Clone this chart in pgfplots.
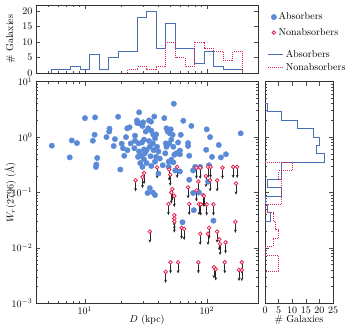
\documentclass[border=0pt]{standalone}
\usepackage{pgfplots}
\pgfplotsset{compat=1.18}
\usetikzlibrary{arrows.meta}
\definecolor{absblue}{RGB}{90,138,215}
\definecolor{histblue}{RGB}{75,110,185}
\definecolor{nonred}{RGB}{226,36,80}

\pgfplotsset{
  panel/.style={
    scale only axis,
    axis line style={black!80, line width=0.8pt},
    tick style={black!70, line width=0.5pt},
    major tick length=4pt, minor tick length=2pt,
    tick align=inside,
    font=\normalsize,
  },
}

\begin{document}
\begin{tikzpicture}
\useasboundingbox (0pt,0pt) rectangle (352pt,334pt);

% scatter: D vs W_r
\begin{axis}[panel,
  at={(36pt,30.7pt)}, anchor=south west,
  width=222pt, height=221.6pt,
  xmode=log, ymode=log,
  xmin=3.97, xmax=262, ymin=1e-3, ymax=10,
  xlabel={$D$ (kpc)},
  ylabel={$W_r(2796)$ (\AA)},
  ylabel style={at={(axis description cs:-0.115,0.5)}, anchor=center},
  xlabel style={at={(axis description cs:0.5,-0.075)}, anchor=center},
  legend image code/.code={\draw[mark repeat=1,#1] plot coordinates {(0pt,0pt)};},
  legend style={at={(1.045,1.33)}, anchor=north west, draw=none, fill=none,
    font=\normalsize, row sep=3pt},
  legend cell align=left,
]
\addplot[only marks, mark=*, mark size=2.7pt, color=absblue] coordinates {
(5.35,0.70) (7.5,0.43) (7.8,0.87) (8.6,0.78) (10.0,2.2)
(12.1,2.27) (12.0,1.1) (11.6,0.86) (12.6,0.42) (12.4,0.32) (12.3,0.29)
(15.0,1.0)
(15.9,1.42) (15.8,1.26) (17.6,0.92) (17.2,0.69) (18.7,2.33)
(19.5,0.26) (21.0,0.46) (20.0,0.76) (20.5,0.63) (21.7,1.0) (22.2,1.44) (22.3,0.58)
(23.2,1.5) (23.7,0.77) (25.7,1.06) (25.7,0.86) (25.4,0.63) (26.7,2.0) (26.8,1.8)
(27.8,2.8) (28.5,1.75) (30.0,1.85) (29.6,1.59) (31.5,1.26) (27.5,0.77)
(29.3,0.80) (30.5,0.90) (27.8,0.55) (27.2,0.44) (28.4,0.34) (29.6,0.29)
(28.8,0.46) (30.5,0.60) (31.0,0.51) (30.4,0.40) (32.0,0.58) (32.0,0.34)
(33.5,2.0) (37,2.35) (34.8,1.9) (33,1.44) (36.2,1.12) (38.3,1.12) (37.5,0.95)
(36,0.77) (34,0.67) (38.3,0.44) (37.5,0.36) (34,0.12) (36,0.10) (37.5,0.09)
(32.6,0.098) (35,1.3) (33.5,0.85) (34.5,0.45) (36.5,0.58) (35,0.30)
(44.7,2.2) (39,0.67) (40,0.55) (41,0.41) (43.4,0.31) (40,0.22) (45.5,0.51) (46,0.77)
(53.5,4.0) (46.6,1.44) (50.5,1.38) (49.7,1.17) (52.3,1.1) (47.6,1.26) (49,0.77)
(46.6,0.67) (53,0.67) (51,0.39) (48.5,0.36) (53,0.35) (48.5,0.29) (55,0.25)
(54,0.48) (51,0.9)
(61,1.1) (64,1.97) (60,0.57) (60,0.49) (56,0.51) (60,0.24) (63,0.029) (58,0.80)
(74.5,1.59) (70,0.78) (70,0.69) (71.5,0.46) (77,0.25) (71.5,0.17) (77,0.098) (78,0.048)
(80,0.29) (88,0.29) (86,0.10)
(99.5,1.38) (106,1.0) (98.5,0.59) (110,0.44) (104,0.31) (102,0.157) (113,0.031)
(125,0.72) (130,0.43) (143,0.49) (189,1.17)
};
\addlegendentry{Absorbers}
% nonabsorbers: upper limits, arrow drawn under each open circle
\addplot[only marks, mark=*, mark size=1.8pt, line width=0.8pt,
  mark options={draw=nonred, fill=white},
  error bars/.cd, y dir=minus, y fixed relative=0.37, error mark=none,
  error bar style={draw=black!85, line width=0.6pt, -{Stealth[length=3.2pt,width=2.8pt]}}]
  coordinates {
(26,0.166) (29.6,0.19) (30.5,0.225) (39,0.285) (49,0.26) (50,0.21) (57,0.29)
(82,0.28) (88,0.28) (102,0.29) (107,0.29) (134,0.28) (164,0.29) (177,0.29)
(173,0.145) (121,0.166) (106,0.166) (98,0.198) (85,0.157) (70,0.124) (82,0.109)
(52,0.115) (51,0.10) (54,0.087) (93,0.09) (48.3,0.062) (54,0.039) (54,0.034)
(54,0.030) (34,0.0197) (71.5,0.062) (86,0.062) (94.5,0.087) (89,0.061) (99.5,0.061)
(113,0.061) (62,0.023) (65,0.022) (88,0.018) (104,0.023) (102,0.018) (121,0.0197)
(126,0.0143) (128,0.0118) (142,0.0126) (171,0.0296) (50.3,0.0055) (58,0.0055)
(45.8,0.0037) (85,0.0055) (114,0.0045) (118,0.0041) (140,0.0055) (183,0.0040)
(193,0.0055) (193,0.0040)
};
\addlegendentry{Nonabsorbers}
\end{axis}

% top histogram of D
\begin{axis}[panel,
  at={(36pt,261pt)}, anchor=south west,
  width=222pt, height=68pt,
  xmode=log, xmin=3.97, xmax=262,
  ymin=0, ymax=22, ytick={0,5,10,15,20},
  xticklabel=\empty,
  ylabel={\# Galaxies},
  ylabel style={at={(axis description cs:-0.115,0.5)}, anchor=center},
  legend image code/.code={\draw[#1] (0pt,0pt) -- (15pt,0pt);},
  legend style={at={(1.03,0.40)}, anchor=north west, draw=none, fill=none,
    font=\normalsize, row sep=1pt},
  legend cell align=left,
]
\addplot[const plot, histblue, line width=1pt] coordinates {
(5.333,0) (5.333,1) (6.384,1) (7.641,2) (9.147,1) (10.95,6) (13.11,1) (15.69,5)
(18.78,7) (22.48,7) (26.91,18) (32.21,20) (38.56,8) (46.15,16) (55.25,8)
(66.13,8) (79.16,3) (94.76,7) (113.4,2) (135.8,1) (162.5,1) (194.5,1) (194.5,0)
};
\addlegendentry{Absorbers}
\addplot[const plot, nonred, line width=1pt, densely dotted] coordinates {
(22.48,0) (22.48,1) (26.91,2) (32.21,1) (38.56,2) (46.15,10) (55.25,5)
(66.13,2) (79.16,10) (94.76,8) (113.4,7) (135.8,4) (162.5,7) (194.5,7) (194.5,0)
};
\addlegendentry{Nonabsorbers}
\end{axis}

% right histogram of W_r
\begin{axis}[panel,
  at={(265pt,30.7pt)}, anchor=south west,
  width=68pt, height=221.6pt,
  ymode=log, ymin=1e-3, ymax=10,
  xmin=0, xmax=25, xtick={0,5,10,15,20,25},
  yticklabel=\empty,
  xlabel={\# Galaxies},
  xlabel style={at={(axis description cs:0.5,-0.075)}, anchor=center},
]
\addplot[histblue, line width=1pt] coordinates {
(0,4.074) (1,4.074) (1,2.870) (6,2.870) (6,2.021) (12,2.021) (12,1.424)
(18,1.424) (18,1.003) (20,1.003) (20,0.7063) (19,0.7063) (19,0.4975)
(22,0.4975) (22,0.3504) (6,0.3504) (6,0.1738) (1,0.1738) (1,0.1225)
(6,0.1225) (6,0.08625) (0,0.08625) (0,0.06075) (1,0.06075) (1,0.04279)
(2,0.04279) (2,0.03014) (0,0.03014)
};
\addplot[nonred, line width=1pt, densely dotted] coordinates {
(0,0.3504) (10,0.3504) (10,0.2468) (5,0.2468) (5,0.1738) (6,0.1738)
(6,0.06075) (0,0.06075) (0,0.04279) (3,0.04279) (3,0.03014) (4,0.03014)
(4,0.02123) (5,0.02123) (5,0.01495) (3,0.01495) (3,0.01053) (0,0.01053)
(0,0.007421) (5,0.007421) (5,0.003681) (0,0.003681)
};
\end{axis}
\end{tikzpicture}
\end{document}
